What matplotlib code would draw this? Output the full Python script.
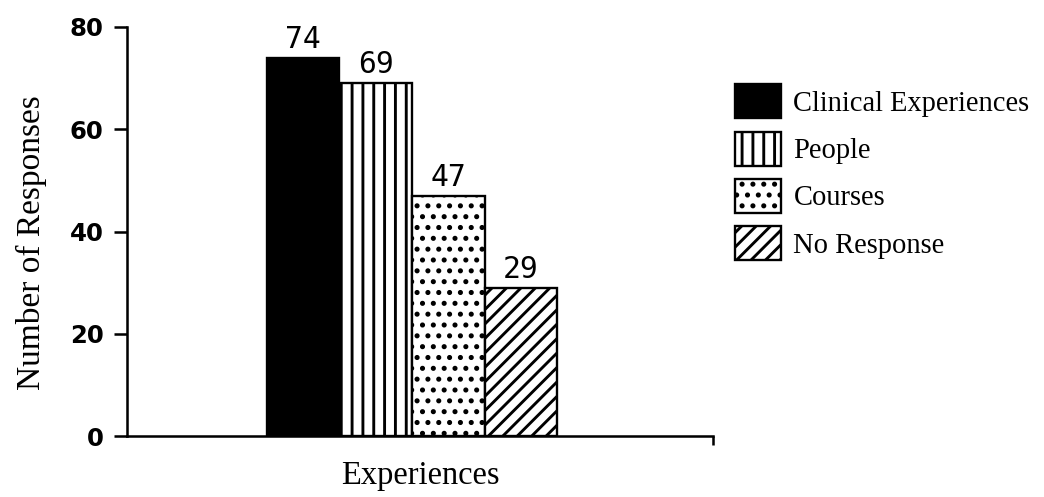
import matplotlib.pyplot as plt
from matplotlib.patches import Patch

# responses by experience type
categories = ["Clinical Experiences", "People", "Courses", "No Response"]
responses = [74, 69, 47, 29]
hatches = ["", "||", "..", "///"]
fills = ["black", "white", "white", "white"]

yticks = [0, 20, 40, 60, 80]

plt.rcParams["hatch.linewidth"] = 1.6

DPI = 130
fig = plt.figure(figsize=(1044 / DPI, 497 / DPI), dpi=DPI)
ax = fig.add_axes([0.1217, 0.1227, 0.5613, 0.823])

positions = list(range(len(categories)))
bars = ax.bar(positions, responses, width=1.0, color=fills, edgecolor="black",
              linewidth=1.3)
for b, h in zip(bars, hatches):
    b.set_hatch(h)

for x, v in zip(positions, responses):
    ax.text(x, v + 0.8, str(v), ha="center", va="bottom",
            family="DejaVu Sans Mono", fontsize=16.5)

ax.set_xlim(-2.42, 5.64)
ax.set_ylim(0, 80)
ax.set_yticks(yticks)
ax.set_yticklabels([str(t) for t in yticks], fontsize=13.5, fontweight="bold")
ax.tick_params(axis="y", direction="out", length=7, width=1.4, pad=6)
ax.set_xticks([5.64])
ax.set_xticklabels([""])
ax.tick_params(axis="x", direction="out", length=5, width=1.4)

for side in ["top", "right"]:
    ax.spines[side].set_visible(False)
for side in ["left", "bottom"]:
    ax.spines[side].set_linewidth(1.4)

ax.set_ylabel("Number of Responses", family="Liberation Serif", fontsize=18.5)
ax.yaxis.set_label_coords(-0.137, 0.474)
ax.set_xlabel("Experiences", family="Liberation Serif", fontsize=18, labelpad=5)

handles = [Patch(facecolor=f, edgecolor="black", hatch=h, linewidth=1.3)
           for f, h in zip(fills, hatches)]
fig.legend(handles, categories, loc="upper left", bbox_to_anchor=(0.693, 0.853),
           frameon=False, prop={"family": "Liberation Serif", "size": 15.8},
           handlelength=1.6, handleheight=1.45, labelspacing=0.47,
           handletextpad=0.45, borderaxespad=0)

fig.savefig("out.png", dpi=DPI)
